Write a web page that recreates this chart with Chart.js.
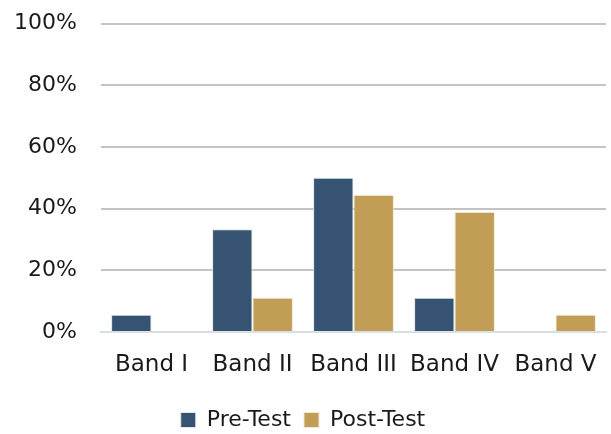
<!DOCTYPE html>
<html>
<head>
<meta charset="utf-8">
<script src="https://cdn.jsdelivr.net/npm/chart.js@4/dist/chart.umd.min.js"></script>
<style>
  html, body { margin: 0; padding: 0; background: #fff; }
  #wrap { width: 611px; height: 434px; }
</style>
</head>
<body>
<div id="wrap"><canvas id="chart" width="611" height="434"></canvas></div>
<script>
// --- data ---
const bands = ['Band I', 'Band II', 'Band III', 'Band IV', 'Band V'];
const preTest = [5.56, 33.33, 50.0, 11.11, 0];
const postTest = [0, 11.11, 44.44, 38.89, 5.56];
const yTicks = [0, 20, 40, 60, 80, 100];

const FONT = "'DejaVu Sans', sans-serif";

new Chart(document.getElementById('chart'), {
    type: 'bar',
    data: {
        labels: bands,
        datasets: [
            { label: 'Pre-Test', data: preTest, backgroundColor: '#375372', borderColor: '#dde3ec', borderWidth: 1 },
            { label: 'Post-Test', data: postTest, backgroundColor: '#c19d55', borderColor: '#efe6d2', borderWidth: 1 }
        ]
    },
    options: {
        responsive: false,
        animation: false,
        layout: { padding: { left: 0, right: 5, top: 23.5, bottom: -7 } },
        datasets: { bar: { categoryPercentage: 0.8, barPercentage: 1.0 } },
        plugins: {
            tooltip: { enabled: false },
            legend: {
                position: 'bottom',
                labels: {
                    font: { family: FONT, size: 22 },
                    color: '#1a1a1a',
                    boxWidth: 15, boxHeight: 15,
                    padding: 13,
                    useBorderRadius: false
                }
            }
        },
        scales: {
            x: {
                grid: { display: false },
                border: { color: '#d9dfe8', width: 2 },
                ticks: {
                    font: { family: FONT, size: 23 },
                    color: '#1a1a1a',
                    maxRotation: 0, autoSkip: false, padding: 11
                },
                afterFit: s => { s.height = 64; }
            },
            y: {
                min: 0, max: 100,
                afterBuildTicks: s => { s.ticks = yTicks.map(v => ({ value: v })); },
                grid: { color: '#c4c4c4', lineWidth: 2, drawTicks: false },
                border: { display: false },
                ticks: {
                    font: { family: FONT, size: 22 },
                    color: '#1a1a1a',
                    padding: 24,
                    callback: v => v + '%'
                },
                afterFit: s => { s.width = 101; s.paddingTop = 0; s.paddingBottom = 0; }
            }
        }
    }
});
</script>
</body>
</html>
